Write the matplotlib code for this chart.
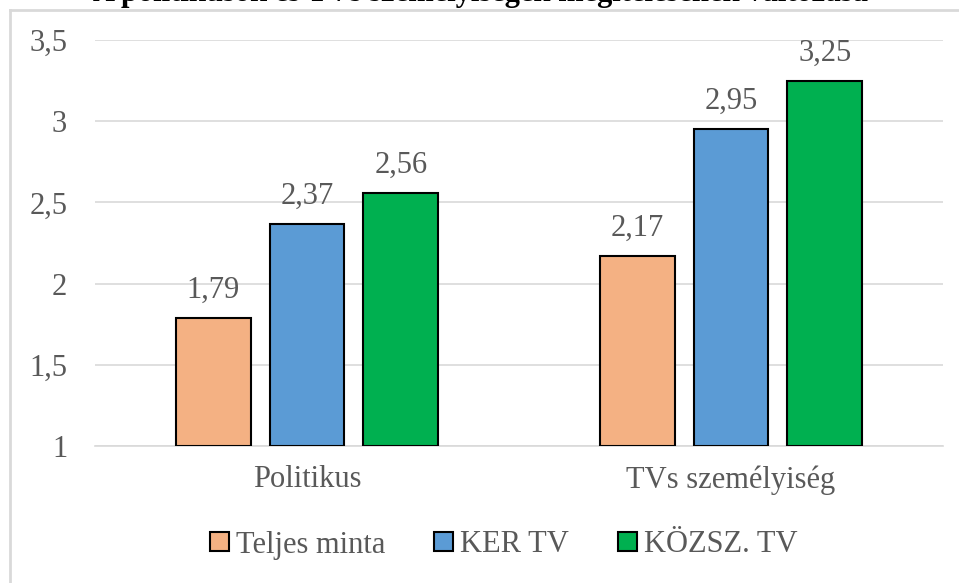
import numpy as np
import matplotlib.pyplot as plt
from matplotlib.lines import Line2D

# data
categories = ['Politikus', 'TVs személyiség']
series_names = ['Teljes minta', 'KER TV', 'KÖZSZ. TV']
teljes = [1.79, 2.17]
ker = [2.37, 2.95]
kozsz = [2.56, 3.25]
labels_fmt = lambda v: f'{v:.2f}'.replace('.', ',')

colors = ['#F4B183', '#5B9BD5', '#00B050']
txt_col = '#595959'

plt.rcParams['font.family'] = ['Liberation Serif', 'DejaVu Serif']

fig = plt.figure(figsize=(9.59, 5.83), dpi=100)
ax = fig.add_axes([95 / 959, 1 - 446 / 583, 848 / 959, 406 / 583])

# chart border: top and left edges only (the rest runs off the picture)
top_y = 1 - 10 / 583
left_x = 10 / 959
fig.add_artist(Line2D([left_x, 1.0], [top_y, top_y], transform=fig.transFigure,
                      color='#D9D9D9', linewidth=2))
fig.add_artist(Line2D([left_x, left_x], [0, top_y], transform=fig.transFigure,
                      color='#D9D9D9', linewidth=2))

x = np.arange(len(categories))
w = 0.176
step = 0.221
for i, (vals, name) in enumerate(zip([teljes, ker, kozsz], series_names)):
    pos = x + (i - 1) * step
    ax.bar(pos, np.array(vals) - 1, bottom=1, width=w, color=colors[i],
           edgecolor='black', linewidth=1.5, label=name, zorder=3)
    for p, v in zip(pos, vals):
        ax.text(p, v + 0.08, labels_fmt(v), ha='center', va='bottom',
                fontsize=22, color=txt_col)

ax.set_xlim(-0.5, 1.5)
ax.set_ylim(1, 3.5)
ax.set_yticks([1, 1.5, 2, 2.5, 3, 3.5])
ax.set_yticklabels(['1', '1,5', '2', '2,5', '3', '3,5'])
ax.set_xticks(x)
ax.set_xticklabels(categories)
ax.tick_params(axis='y', length=0, pad=20, labelsize=22, labelcolor=txt_col)
ax.tick_params(axis='x', length=0, pad=14, labelsize=22, labelcolor=txt_col)
ax.grid(axis='y', color='#D9D9D9', linewidth=1.2, zorder=0)
for s in ['top', 'right', 'left']:
    ax.spines[s].set_visible(False)
ax.spines['bottom'].set_color('#D9D9D9')
ax.spines['bottom'].set_linewidth(1.2)

fig.text(480 / 959, 1 + 6 / 583, 'A politikusok és TVs személyiségek megítélésének változása',
         ha='center', va='center', fontsize=22, fontweight='bold', color='black')

leg = fig.legend(loc='center', bbox_to_anchor=(504 / 959, 1 - 545 / 583), ncol=3,
                 frameon=False, fontsize=22, handlelength=0.6, handleheight=0.6,
                 handletextpad=0.25, columnspacing=1.6)
for t in leg.get_texts():
    t.set_color(txt_col)

fig.savefig('out.png', dpi=100)
